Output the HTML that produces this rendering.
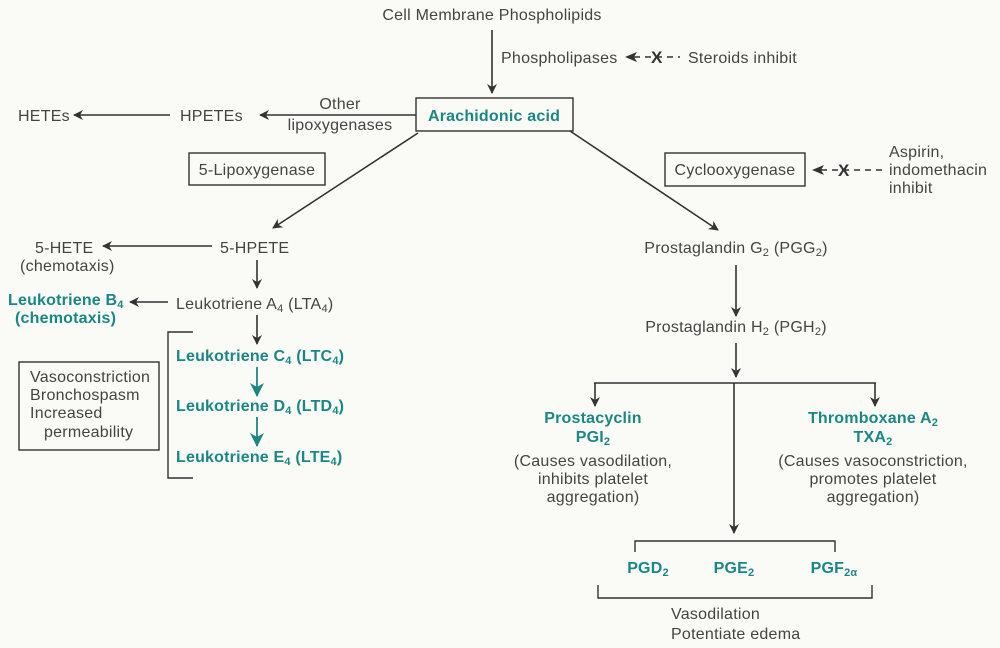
<!DOCTYPE html>
<html><head><meta charset="utf-8"><style>
html,body{margin:0;padding:0;background:#fafaf6;}
svg{display:block;font-family:"Liberation Sans",Arial,sans-serif;}
.t{fill:#444;font-size:16px;letter-spacing:0.25px;}
.g{fill:#1b8785;font-size:16px;font-weight:bold;letter-spacing:0.2px;}
.l{stroke:#333;stroke-width:1.6;fill:none;}
.b{stroke:#333;stroke-width:1.4;fill:none;}
.h{fill:#333;}
.ht{fill:#1b8785;}
</style></head><body>
<svg width="1000" height="648" viewBox="0 0 1000 648">
<defs>
<marker id="a" markerWidth="10" markerHeight="10" refX="9" refY="5" orient="auto" markerUnits="userSpaceOnUse"><path d="M0,0 L10,5 L0,10 L3,5 z" class="h"/></marker>
<marker id="at" markerWidth="14" markerHeight="14" refX="13" refY="7" orient="auto" markerUnits="userSpaceOnUse"><path d="M0,0 L14,7 L0,14 L4,7 z" class="ht"/></marker>
</defs>
<text class="t" x="492" y="20" text-anchor="middle">Cell Membrane Phospholipids</text>
<line class="l" x1="492" y1="30" x2="492" y2="93" marker-end="url(#a)"/>
<text class="t" x="501" y="63">Phospholipases</text>
<path d="M625,57 L637,52 L634,57 L637,62 z" class="h"/>
<line x1="634" y1="57" x2="680" y2="57" stroke="#333" stroke-width="1.6" stroke-dasharray="6,5"/>
<text x="651" y="63" style="font-size:17px;font-weight:bold;fill:#333">X</text>
<text class="t" x="688" y="63">Steroids inhibit</text>

<rect class="b" x="416" y="98" width="157" height="33"/>
<text class="g" x="494" y="121" text-anchor="middle">Arachidonic acid</text>
<line class="l" x1="416" y1="115" x2="260" y2="115" marker-end="url(#a)"/>
<text class="t" x="340" y="109" text-anchor="middle">Other</text>
<text class="t" x="340" y="130" text-anchor="middle">lipoxygenases</text>
<text class="t" x="180" y="121">HPETEs</text>
<line class="l" x1="170" y1="115" x2="74" y2="115" marker-end="url(#a)"/>
<text class="t" x="18" y="121">HETEs</text>

<rect class="b" x="189" y="153" width="136" height="32"/>
<text class="t" x="257" y="175" text-anchor="middle">5-Lipoxygenase</text>
<line class="l" x1="418" y1="133" x2="273" y2="228" marker-end="url(#a)"/>

<rect class="b" x="665" y="153" width="140" height="33"/>
<text class="t" x="735" y="175" text-anchor="middle">Cyclooxygenase</text>
<path d="M812,170 L824,165 L821,170 L824,175 z" class="h"/>
<line x1="821" y1="170" x2="882" y2="170" stroke="#333" stroke-width="1.6" stroke-dasharray="6,5"/>
<text x="838" y="176" style="font-size:17px;font-weight:bold;fill:#333">X</text>
<text class="t" x="889" y="157">Aspirin,</text>
<text class="t" x="889" y="175">indomethacin</text>
<text class="t" x="889" y="193">inhibit</text>
<line class="l" x1="570" y1="131" x2="718" y2="230" marker-end="url(#a)"/>

<text class="t" x="220" y="253">5-HPETE</text>
<line class="l" x1="212" y1="246" x2="103" y2="246" marker-end="url(#a)"/>
<text class="t" x="35" y="253">5-HETE</text>
<text class="t" x="20" y="271">(chemotaxis)</text>
<line class="l" x1="257" y1="260" x2="257" y2="288" marker-end="url(#a)"/>
<text class="t" x="176" y="309">Leukotriene A<tspan font-size="11" dy="3">4</tspan><tspan dy="-3"> (LTA</tspan><tspan font-size="11" dy="3">4</tspan><tspan dy="-3">)</tspan></text>
<line class="l" x1="168" y1="302" x2="130" y2="302" marker-end="url(#a)"/>
<text class="g" x="8" y="305">Leukotriene B<tspan font-size="11" dy="3">4</tspan></text>
<text class="g" x="15" y="323">(chemotaxis)</text>
<line class="l" x1="257" y1="315" x2="257" y2="344" marker-end="url(#a)"/>
<path class="b" d="M193,332 H168 V478 H193"/>
<text class="g" x="176" y="361">Leukotriene C<tspan font-size="11" dy="3">4</tspan><tspan dy="-3"> (LTC</tspan><tspan font-size="11" dy="3">4</tspan><tspan dy="-3">)</tspan></text>
<line x1="257" y1="367" x2="257" y2="396" stroke="#1b8785" stroke-width="1.8" marker-end="url(#at)"/>
<text class="g" x="176" y="411">Leukotriene D<tspan font-size="11" dy="3">4</tspan><tspan dy="-3"> (LTD</tspan><tspan font-size="11" dy="3">4</tspan><tspan dy="-3">)</tspan></text>
<line x1="257" y1="417" x2="257" y2="446" stroke="#1b8785" stroke-width="1.8" marker-end="url(#at)"/>
<text class="g" x="176" y="462">Leukotriene E<tspan font-size="11" dy="3">4</tspan><tspan dy="-3"> (LTE</tspan><tspan font-size="11" dy="3">4</tspan><tspan dy="-3">)</tspan></text>
<rect class="b" x="19" y="362" width="140" height="88"/>
<text class="t" x="30" y="382">Vasoconstriction</text>
<text class="t" x="30" y="400">Bronchospasm</text>
<text class="t" x="30" y="418">Increased</text>
<text class="t" x="44" y="437">permeability</text>

<text class="t" x="736" y="253" text-anchor="middle">Prostaglandin G<tspan font-size="11" dy="3">2</tspan><tspan dy="-3"> (PGG</tspan><tspan font-size="11" dy="3">2</tspan><tspan dy="-3">)</tspan></text>
<line class="l" x1="736" y1="265" x2="736" y2="316" marker-end="url(#a)"/>
<text class="t" x="736" y="332" text-anchor="middle">Prostaglandin H<tspan font-size="11" dy="3">2</tspan><tspan dy="-3"> (PGH</tspan><tspan font-size="11" dy="3">2</tspan><tspan dy="-3">)</tspan></text>
<line class="l" x1="736" y1="343" x2="736" y2="377" marker-end="url(#a)"/>
<line class="l" x1="594" y1="383" x2="876" y2="383"/>
<line class="l" x1="595" y1="383" x2="595" y2="406" marker-end="url(#a)"/>
<line class="l" x1="875" y1="383" x2="875" y2="406" marker-end="url(#a)"/>
<line class="l" x1="734" y1="383" x2="734" y2="533" marker-end="url(#a)"/>

<text class="g" x="593" y="423" text-anchor="middle">Prostacyclin</text>
<text class="g" x="593" y="442" text-anchor="middle">PGI<tspan font-size="11" dy="3">2</tspan></text>
<text class="t" x="593" y="466" text-anchor="middle">(Causes vasodilation,</text>
<text class="t" x="593" y="484" text-anchor="middle">inhibits platelet</text>
<text class="t" x="593" y="502" text-anchor="middle">aggregation)</text>
<text class="g" x="873" y="423" text-anchor="middle">Thromboxane A<tspan font-size="11" dy="3">2</tspan></text>
<text class="g" x="873" y="442" text-anchor="middle">TXA<tspan font-size="11" dy="3">2</tspan></text>
<text class="t" x="873" y="466" text-anchor="middle">(Causes vasoconstriction,</text>
<text class="t" x="873" y="484" text-anchor="middle">promotes platelet</text>
<text class="t" x="873" y="502" text-anchor="middle">aggregation)</text>

<path class="b" d="M635,552 V541 H835 V552"/>
<text class="g" x="648" y="573" text-anchor="middle">PGD<tspan font-size="11" dy="3">2</tspan></text>
<text class="g" x="734" y="573" text-anchor="middle">PGE<tspan font-size="11" dy="3">2</tspan></text>
<text class="g" x="834" y="573" text-anchor="middle">PGF<tspan font-size="11" dy="3">2α</tspan></text>
<path class="b" d="M598,585 V598 H872 V585"/>
<text class="t" x="671" y="619">Vasodilation</text>
<text class="t" x="671" y="639">Potentiate edema</text>
</svg>
</body></html>
